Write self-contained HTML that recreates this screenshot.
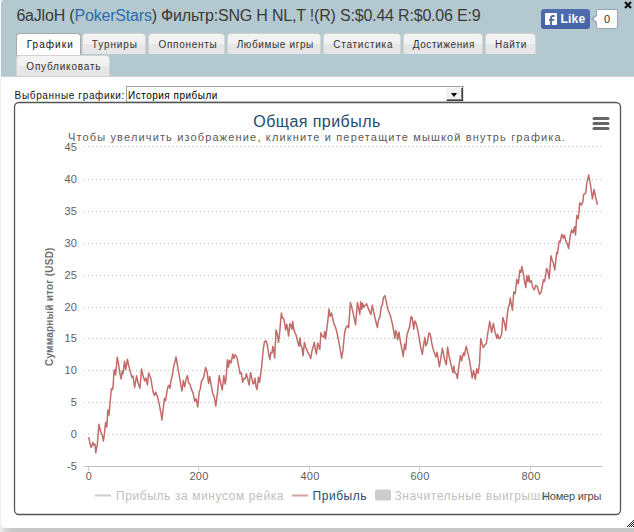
<!DOCTYPE html>
<html><head><meta charset="utf-8">
<style>
*{margin:0;padding:0;box-sizing:border-box}
html,body{width:634px;height:532px;overflow:hidden;background:#f0f0f0;font-family:"Liberation Sans",sans-serif}
#frame{position:absolute;left:1px;top:0;width:633px;height:528px;background:#fff;border-radius:3px 0 0 5px;overflow:hidden}
#col0{position:absolute;left:0;top:0;width:1px;height:77px;background:#fafafa}
#shadow{position:absolute;left:0;top:528px;width:634px;height:4px;background:linear-gradient(to right,#eeeeee 0px,#d8d8d8 5px,#c8c8c8 12px)}
#hdr{position:absolute;left:0px;top:0;width:633px;height:77px;background:#b4c8cf;border-bottom:1px solid #cfcfcf}
#ttl{position:absolute;left:15.4px;top:7.2px;font-size:16px;color:#3a3a3a;white-space:nowrap;letter-spacing:-0.19px}
#ttl b{font-weight:normal;color:#2a6db0}
#like{position:absolute;left:540px;top:9px;width:49px;height:20px;background:linear-gradient(#516db0,#4562a5);border-radius:3px}
#fbl{position:absolute;left:4px;top:4px;width:12px;height:12px;background:#fff;border-radius:1px}
#like span{position:absolute;left:19.5px;top:3px;font-size:12px;line-height:14px;font-weight:bold;color:#fff;letter-spacing:0.2px}
#cnt{position:absolute;left:595px;top:9px;width:22px;height:20px;background:#fff;border:1px solid #9aa3b3;border-radius:2px;font-size:11px;color:#333;text-align:center;line-height:18px}
#arr{position:absolute;left:590px;top:15px;width:0;height:0;border-top:4px solid transparent;border-bottom:4px solid transparent;border-right:5px solid #8e9bb0}
#arr2{position:absolute;left:592px;top:16px;width:0;height:0;border-top:3px solid transparent;border-bottom:3px solid transparent;border-right:4px solid #fff}
#close{position:absolute;left:623px;top:-1px;font-size:13px;font-weight:bold;color:#111}
.tab{position:absolute;border:1px solid #d3d3d3;border-bottom:none;border-radius:4px 4px 0 0;background:linear-gradient(#f3f3f3 0,#f1f1f1 50%,#e6e6e6 50%,#e6e6e6 100%)}
.tab span{position:absolute;top:5px;font-size:10px;letter-spacing:0.6px;color:#333;white-space:nowrap;line-height:12px}
.tab.act{background:#fff;border-color:#aaa}
.tab.act span{color:#111}
#lbl{position:absolute;left:13.6px;top:90px;font-size:10px;letter-spacing:0.65px;line-height:12px;color:#111;white-space:nowrap}
#sel{position:absolute;left:125px;top:86px;width:338px;height:16px;border:1px solid #a0a0a0;border-right-color:#e0e0e0;border-bottom-color:#e0e0e0;background:#fff}
#sel span{position:absolute;left:1px;top:3px;font-size:10px;letter-spacing:0.5px;line-height:12px;color:#000;white-space:nowrap}
#btn{position:absolute;left:319px;top:0px;width:17px;height:14px;background:#f0f0f0;border:1px solid;border-color:#f8f8f8 #404040 #404040 #f8f8f8;box-shadow:inset -1px -1px #808080}
#btn:after{content:"";position:absolute;left:3.5px;top:5px;border-left:3.5px solid transparent;border-right:3.5px solid transparent;border-top:4px solid #000}
svg{position:absolute;left:0;top:0}
</style></head><body>
<div id="frame">
<div id="hdr">
<div id="ttl">6aJloH (<b>PokerStars</b>) Фильтр:SNG H NL,T !(R) S:$0.44 R:$0.06 E:9</div>
<div id="like"><svg width="12" height="12" style="position:absolute;left:4px;top:4px"><rect width="12" height="12" rx="1" fill="#fff"/><path d="M6 12 V5.2 Q6 3 8.2 3 H9.6 M4 6.8 H9.3" stroke="#4a66ab" stroke-width="1.8" fill="none"/></svg><span>Like</span></div>
<div id="arr"></div><div id="cnt">0</div><div id="arr2"></div>
<svg width="8" height="8" style="position:absolute;left:622.5px;top:1px"><path d="M1 1 L7 7 M7 1 L1 7" stroke="#111" stroke-width="2.2"/></svg>
<div class="tab act" style="left:15px;top:33px;width:65px;height:22px"><span style="left:9.7px;letter-spacing:1.05px">Графики</span></div>
<div class="tab" style="left:81px;top:33px;width:64px;height:21px"><span style="left:8.7px;letter-spacing:0.9px">Турниры</span></div>
<div class="tab" style="left:147px;top:33px;width:77px;height:21px"><span style="left:9.4px;letter-spacing:0.72px">Оппоненты</span></div>
<div class="tab" style="left:226px;top:33px;width:94px;height:21px"><span style="left:8.7px;letter-spacing:0.62px">Любимые игры</span></div>
<div class="tab" style="left:322px;top:33px;width:78px;height:21px"><span style="left:9.2px;letter-spacing:0.75px">Статистика</span></div>
<div class="tab" style="left:402px;top:33px;width:80px;height:21px"><span style="left:8.7px;letter-spacing:0.6px">Достижения</span></div>
<div class="tab" style="left:484px;top:33px;width:51px;height:21px"><span style="left:9.1px;letter-spacing:0.65px">Найти</span></div>
<div class="tab" style="left:15px;top:55px;width:94px;height:21px"><span style="left:9.3px;letter-spacing:0.8px">Опубликовать</span></div>
</div>
<div id="lbl">Выбранные графики:</div>
<div id="sel"><span>История прибыли</span><div id="btn"></div></div>
</div>
<div id="shadow"></div><div id="col0"></div>
<svg width="634" height="532" font-family="Liberation Sans">
<rect x="14.5" y="102.5" width="606" height="412" rx="4.5" ry="4.5" fill="none" stroke="#555" stroke-width="1.3"/>
<text x="317" y="127" text-anchor="middle" font-size="16" fill="#274b6d" letter-spacing="0.45">Общая прибыль</text>
<text x="317" y="141" text-anchor="middle" font-size="11" fill="#5a5a5a" letter-spacing="1.15">Чтобы увеличить изображение, кликните и перетащите мышкой внутрь графика.</text>
<g stroke="#c0c0c0" stroke-width="1" stroke-dasharray="1,3" fill="none">
<line x1="84" y1="146.5" x2="602" y2="146.5"/>
<line x1="84" y1="179.5" x2="602" y2="179.5"/>
<line x1="84" y1="211.5" x2="602" y2="211.5"/>
<line x1="84" y1="243.5" x2="602" y2="243.5"/>
<line x1="84" y1="275.5" x2="602" y2="275.5"/>
<line x1="84" y1="307.5" x2="602" y2="307.5"/>
<line x1="84" y1="338.5" x2="602" y2="338.5"/>
<line x1="84" y1="370.5" x2="602" y2="370.5"/>
<line x1="84" y1="402.5" x2="602" y2="402.5"/>
<line x1="84" y1="434.5" x2="602" y2="434.5"/>
</g>
<line x1="84" y1="466.5" x2="602" y2="466.5" stroke="#c0c0c0" stroke-width="1"/>
<g stroke="#C0D0E0" stroke-width="1">
<line x1="88.5" y1="467" x2="88.5" y2="471"/><line x1="198.5" y1="467" x2="198.5" y2="471"/><line x1="309.5" y1="467" x2="309.5" y2="471"/><line x1="419.5" y1="467" x2="419.5" y2="471"/><line x1="530.5" y1="467" x2="530.5" y2="471"/>
</g>
<g font-size="11" fill="#606060" text-anchor="middle" letter-spacing="0.2">
<text x="89" y="480">0</text><text x="199" y="480">200</text><text x="310" y="480">400</text><text x="420" y="480">600</text><text x="531" y="480">800</text>
</g>
<g font-size="11" fill="#606060" text-anchor="end" letter-spacing="0.1">
<text x="77" y="151.0">45</text>
<text x="77" y="182.9">40</text>
<text x="77" y="214.8">35</text>
<text x="77" y="246.7">30</text>
<text x="77" y="278.6">25</text>
<text x="77" y="310.5">20</text>
<text x="77" y="342.4">15</text>
<text x="77" y="374.3">10</text>
<text x="77" y="406.2">5</text>
<text x="77" y="438.1">0</text>
<text x="77" y="470.0">-5</text>
</g>
<text transform="translate(52.5,366) rotate(-90)" font-size="10" font-weight="bold" fill="#707070" letter-spacing="0.22">Суммарный итог (USD)</text>
<path d="M88.7 437.2 L89.6 441.7 L91.0 447.3 L92.0 446.0 L92.8 442.3 L93.9 445.1 L95.0 444.0 L95.8 453.0 L96.6 447.3 L97.3 445.1 L98.9 424.2 L100.3 430.4 L101.5 433.8 L102.5 436.0 L103.4 441.1 L104.3 434.9 L105.6 422.5 L106.8 427.0 L107.9 410.1 L109.0 415.1 L110.3 400.0 L111.4 388.8 L112.7 389.5 L113.2 384.2 L114.0 371.1 L114.9 369.7 L115.6 375.0 L117.2 357.2 L118.5 363.8 L119.8 373.0 L121.1 378.9 L122.2 371.1 L123.0 374.0 L124.5 361.2 L125.8 369.7 L127.4 359.2 L128.5 364.5 L130.1 371.1 L132.0 377.6 L133.0 376.0 L134.7 387.5 L136.6 375.7 L138.2 383.6 L139.9 388.2 L141.6 369.1 L143.2 376.3 L144.8 380.9 L146.0 378.0 L147.4 384.9 L148.7 373.0 L150.8 378.3 L153.1 392.1 L154.4 395.4 L155.7 392.1 L157.7 397.4 L159.7 406.6 L161.1 413.9 L161.9 420.2 L163.1 409.8 L164.4 398.6 L165.6 400.7 L166.9 391.7 L168.1 386.1 L169.0 385.4 L170.0 388.2 L171.1 379.9 L172.5 375.0 L173.6 366.7 L174.6 363.2 L176.0 356.9 L177.0 362.5 L178.4 370.8 L179.7 377.8 L180.8 384.7 L182.0 391.0 L183.3 380.6 L184.7 386.8 L186.1 378.5 L187.5 375.7 L188.5 382.7 L189.9 384.0 L191.3 388.9 L193.1 393.1 L194.7 401.4 L196.1 398.6 L197.8 407.0 L199.2 391.7 L200.3 388.9 L201.4 381.3 L202.4 379.9 L203.8 377.1 L205.6 367.4 L207.0 371.5 L208.6 383.4 L209.7 376.4 L211.1 384.7 L212.8 393.8 L214.2 396.6 L215.8 406.0 L217.5 392.4 L219.2 375.5 L220.5 382.3 L222.2 389.9 L223.9 375.5 L225.1 384.0 L226.0 379.5 L227.4 359.7 L228.5 367.1 L229.4 360.3 L231.0 363.0 L232.8 354.1 L233.9 358.6 L235.0 354.7 L236.7 356.9 L238.4 364.8 L240.1 373.8 L241.2 372.5 L242.7 382.3 L244.0 378.3 L245.2 378.8 L246.3 373.8 L247.4 377.5 L249.1 385.1 L250.6 372.7 L251.9 378.3 L253.1 384.0 L254.1 383.0 L255.1 378.3 L255.9 386.2 L257.0 389.6 L258.5 377.2 L259.6 382.3 L261.5 368.2 L263.2 350.2 L264.3 342.3 L265.7 340.6 L267.2 344.5 L268.6 353.5 L269.8 359.7 L270.9 352.4 L272.0 353.0 L272.8 346.2 L273.8 351.0 L274.7 358.0 L276.0 329.9 L277.1 332.7 L278.5 342.3 L279.6 333.8 L280.5 322.6 L281.4 313.0 L282.5 318.0 L283.7 318.6 L284.8 324.2 L285.6 329.9 L286.7 324.2 L287.8 330.4 L288.6 336.1 L289.8 323.7 L290.9 324.8 L291.8 329.3 L292.7 321.4 L293.8 329.3 L294.9 332.7 L296.1 335.0 L298.0 342.9 L299.1 346.2 L299.9 337.8 L300.8 345.1 L301.9 347.4 L303.1 355.8 L304.4 342.3 L305.5 346.8 L306.7 349.6 L308.1 353.0 L309.6 355.3 L310.7 358.6 L311.9 351.3 L314.3 342.3 L315.2 348.5 L316.4 354.1 L317.7 342.9 L319.8 349.6 L320.9 332.7 L322.0 336.1 L323.9 337.2 L324.7 331.6 L325.6 338.9 L327.7 322.0 L329.0 309.0 L330.1 316.4 L331.5 313.0 L332.6 318.0 L334.0 324.1 L335.4 326.9 L336.8 331.8 L338.2 338.7 L339.8 347.1 L341.7 358.2 L343.0 349.9 L344.4 334.5 L345.4 329.0 L347.6 325.5 L348.6 327.6 L350.4 302.5 L351.8 307.4 L353.2 313.7 L355.6 324.8 L357.4 302.5 L359.1 310.9 L359.8 314.4 L360.7 301.8 L361.8 309.5 L362.5 303.2 L363.9 307.4 L365.3 305.3 L366.7 303.9 L368.1 308.1 L370.9 314.4 L372.3 305.3 L374.1 313.7 L375.8 321.3 L377.4 327.6 L378.5 319.9 L379.9 317.1 L381.3 306.7 L382.4 304.6 L383.4 297.7 L384.8 295.6 L386.2 301.1 L387.6 308.8 L389.0 312.3 L390.4 315.8 L392.5 324.4 L393.9 332.0 L394.9 338.3 L395.8 330.6 L397.0 334.1 L397.7 339.7 L399.0 332.0 L400.4 341.8 L401.8 348.7 L403.2 356.4 L404.6 343.9 L405.6 349.4 L407.0 334.8 L409.5 327.1 L411.2 316.4 L412.3 318.1 L413.7 329.2 L414.8 320.9 L416.2 323.7 L417.6 329.2 L419.2 338.3 L420.9 348.0 L422.3 354.3 L423.7 344.6 L424.8 337.6 L425.9 345.9 L427.3 342.5 L429.0 332.7 L430.4 334.8 L431.8 343.2 L433.2 349.4 L434.5 352.9 L435.9 357.1 L437.1 352.2 L439.4 366.8 L440.4 360.6 L442.4 348.3 L444.6 359.5 L446.3 364.7 L447.6 347.0 L449.2 356.8 L451.2 365.4 L452.9 372.6 L453.8 366.0 L454.7 372.6 L456.4 374.0 L457.4 378.6 L458.4 370.0 L460.4 355.5 L461.7 360.8 L463.4 352.9 L464.4 355.5 L466.1 346.3 L467.4 350.9 L469.6 360.8 L472.2 377.9 L473.6 370.7 L475.3 379.2 L476.8 368.7 L478.2 373.3 L479.5 363.4 L480.8 338.4 L482.1 343.7 L483.4 347.6 L484.8 345.0 L486.3 343.7 L487.6 334.5 L488.7 327.9 L489.7 321.3 L491.6 332.5 L493.3 323.3 L495.3 333.2 L496.8 338.4 L497.5 334.2 L499.0 338.7 L500.5 337.2 L501.7 334.2 L502.8 317.6 L504.3 322.2 L505.8 330.4 L507.3 314.6 L508.3 307.1 L509.2 305.6 L510.3 298.1 L511.3 304.1 L512.5 310.1 L513.7 292.1 L515.2 293.6 L516.8 279.3 L518.3 283.8 L519.8 270.3 L520.8 272.5 L521.9 266.5 L523.1 272.5 L524.3 280.0 L525.8 287.6 L526.8 275.5 L527.9 281.5 L528.8 275.5 L529.8 282.3 L531.3 280.8 L532.8 287.6 L534.3 289.8 L535.8 285.3 L537.4 286.8 L539.6 294.3 L541.1 292.1 L542.8 283.1 L543.5 279.7 L544.4 281.6 L545.6 275.6 L546.5 268.4 L547.7 270.3 L549.2 278.6 L551.0 255.7 L552.2 260.2 L553.3 262.8 L554.8 269.9 L556.7 252.6 L557.4 253.8 L558.6 245.5 L559.2 241.1 L560.3 241.9 L561.8 234.3 L563.3 238.1 L564.4 235.1 L565.9 241.1 L567.4 244.1 L568.6 248.6 L570.1 236.6 L571.6 229.8 L573.1 232.8 L574.6 226.8 L575.5 235.1 L576.8 215.5 L578.3 218.6 L579.8 202.8 L581.4 205.0 L582.9 202.0 L583.6 194.6 L585.7 192.9 L587.0 181.9 L588.7 175.1 L590.7 186.1 L592.4 198.8 L594.1 189.5 L595.8 198.0 L597.5 204.7" fill="none" stroke="#c26c6a" stroke-width="1.5" stroke-linejoin="round"/>
<g stroke="#666" stroke-width="3" stroke-linecap="round"><line x1="594" y1="118.5" x2="608" y2="118.5"/><line x1="594" y1="123.5" x2="608" y2="123.5"/><line x1="594" y1="128.5" x2="608" y2="128.5"/></g>
<line x1="95" y1="495.5" x2="111" y2="495.5" stroke="#ccc" stroke-width="2"/>
<text x="116" y="500" font-size="12" fill="#c0c0c0" letter-spacing="0.6">Прибыль за минусом рейка</text>
<line x1="292" y1="495.5" x2="308" y2="495.5" stroke="#d4a09e" stroke-width="2"/>
<text x="312.5" y="500" font-size="12" fill="#274b6d" letter-spacing="0.55">Прибыль</text>
<rect x="375" y="489.5" width="16" height="11" rx="2" fill="#ccc"/>
<text x="394.5" y="500" font-size="12" fill="#c0c0c0" letter-spacing="0.6">Значительные выигрыши</text>
<text x="542" y="499.5" font-size="11" fill="#4d4d4d" letter-spacing="-0.2">Номер игры</text>
<g fill="#222"><rect x="633" y="520" width="1" height="1"/><rect x="632" y="521" width="1" height="1"/><rect x="631" y="522" width="1" height="1"/><rect x="633" y="522" width="1" height="1"/><rect x="630" y="523" width="1" height="1"/><rect x="632" y="523" width="1" height="1"/><rect x="629" y="524" width="1" height="1"/><rect x="631" y="524" width="1" height="1"/><rect x="633" y="524" width="1" height="1"/><rect x="628" y="525" width="1" height="1"/><rect x="630" y="525" width="1" height="1"/><rect x="632" y="525" width="1" height="1"/><rect x="627" y="526" width="1" height="1"/><rect x="629" y="526" width="1" height="1"/><rect x="631" y="526" width="1" height="1"/><rect x="633" y="526" width="1" height="1"/></g>
</svg>
</body></html>
